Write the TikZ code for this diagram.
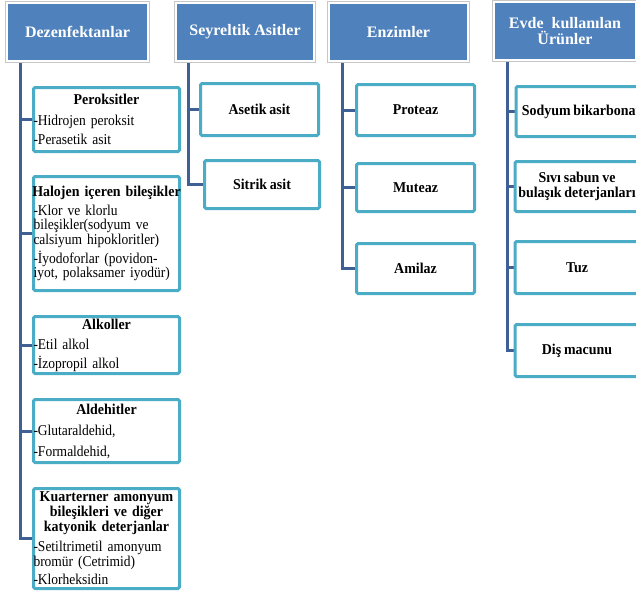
\documentclass[tikz,border=0pt]{standalone}
\usepackage{fontspec}
\setmainfont{Liberation Serif}
\newfontfamily\condr{Liberation Serif}[FakeStretch=0.9,WordSpace={0.75}]
\newfontfamily\condb{Liberation Serif}[FakeStretch=0.93,WordSpace={0.8}]
\usetikzlibrary{backgrounds}
\definecolor{hdrblue}{RGB}{79,129,189}
\definecolor{connblue}{RGB}{62,96,148}
\definecolor{tealb}{RGB}{75,172,198}
\setlength{\parindent}{0pt}
\newcommand\gapx[1][5pt]{\par\vspace{#1}}
\newcommand\ttlx[1]{{\condb\bfseries\fontsize{15}{13.5}\selectfont
  \makebox[\linewidth]{\begin{tabular}{@{}c@{}}#1\end{tabular}}\par}}
\begin{document}
\begin{tikzpicture}[x=1pt,y=-1pt,
  hdr/.style={fill=hdrblue, draw=white, line width=2.4pt,
    preaction={draw=black!22, line width=3.8pt},
    text=white, font=\bfseries\fontsize{16}{16.5}\selectfont, align=center, inner sep=0pt},
  cbox/.style={draw=tealb, line width=3pt, fill=white, rounded corners=1.5pt,
    inner xsep=0pt, inner ysep=0pt, font=\condr\fontsize{15}{13.5}\selectfont},
  lbox/.style={cbox, text width=#1, align=left},
  sbox/.style={cbox, align=center, font=\condb\bfseries\fontsize{15}{14.5}\selectfont},
  conn/.style={draw=connblue, line width=3pt, line join=miter}]
\useasboundingbox (0,0) rectangle (636,597);

% headers
\node[hdr, minimum width=141, minimum height=58] (h1) at (77.5,32) {Dezenfektanlar};
\node[hdr, minimum width=138, minimum height=58] (h2) at (245,32) {Seyreltik Asitler};
\node[hdr, minimum width=139, minimum height=58] (h3) at (398.5,32) {Enzimler};
\node[hdr, minimum width=142, minimum height=58] (h4) at (565,31) {Evde\ \ kullanılan\\Ürünler};

% column 1
\node[lbox=146, minimum height=64] (a1) at (106.5,119.5)
  {\ttlx{Peroksitler}\gapx -Hidrojen peroksit\gapx -Perasetik asit};
\node[lbox=146, minimum height=114] (a2) at (106.5,233.5)
  {\ttlx{Halojen içeren bileşikler}\gapx[4pt] -Klor ve klorlu\\bileşikler(sodyum ve\\calsiyum hipokloritler)\gapx[2.5pt] -İyodoforlar (povidon-\\iyot, polaksamer iyodür)};
\node[lbox=146, minimum height=57] (a3) at (106.5,345)
  {\ttlx{Alkoller}\gapx -Etil alkol\gapx -İzopropil alkol};
\node[lbox=146, minimum height=63] (a4) at (106.5,431)
  {\ttlx{Aldehitler}\gapx[6pt] -Glutaraldehid,\gapx[7pt] -Formaldehid,};
\node[lbox=146, minimum height=100] (a5) at (106.5,538.5)
  {\ttlx{Kuarterner amonyum\\bileşikleri ve diğer\\katyonik deterjanlar}\gapx[5pt] -Setiltrimetil amonyum\\bromür (Cetrimid)\gapx[4pt] -Klorheksidin};

% column 2
\node[sbox, minimum width=118, minimum height=52] (b1) at (259.5,109.5) {Asetik asit};
\node[sbox, minimum width=115, minimum height=48] (b2) at (262,184.5) {Sitrik asit};

% column 3
\node[sbox, minimum width=118, minimum height=51] (c1) at (415.5,110) {Proteaz};
\node[sbox, minimum width=118, minimum height=48] (c2) at (415.5,187.5) {Muteaz};
\node[sbox, minimum width=118, minimum height=50] (c3) at (415.5,268.5) {Amilaz};

% column 4
\node[sbox, minimum width=130, minimum height=50] (d1) at (581,111.5) {Sodyum bikarbonat};
\node[sbox, minimum width=124, minimum height=50] (d2) at (577,186.5) {Sıvı sabun ve\\bulaşık deterjanları};
\node[sbox, minimum width=124, minimum height=52] (d3) at (577,267.5) {Tuz};
\node[sbox, minimum width=124, minimum height=52] (d4) at (577,350.5) {Diş macunu};

\begin{scope}[on background layer]
  \fill[white] (0,0) rectangle (636,597);
  \coordinate (t1) at (20,61);
  \coordinate (t2) at (188,61);
  \coordinate (t3) at (342,61);
  \coordinate (t4) at (507,61);
  \foreach \n in {a1,a2,a3,a4,a5} \draw[conn] (t1) |- (\n.west);
  \foreach \n in {b1,b2} \draw[conn] (t2) |- (\n.west);
  \foreach \n in {c1,c2,c3} \draw[conn] (t3) |- (\n.west);
  \foreach \n in {d1,d2,d3,d4} \draw[conn] (t4) |- (\n.west);
\end{scope}
\end{tikzpicture}
\end{document}
